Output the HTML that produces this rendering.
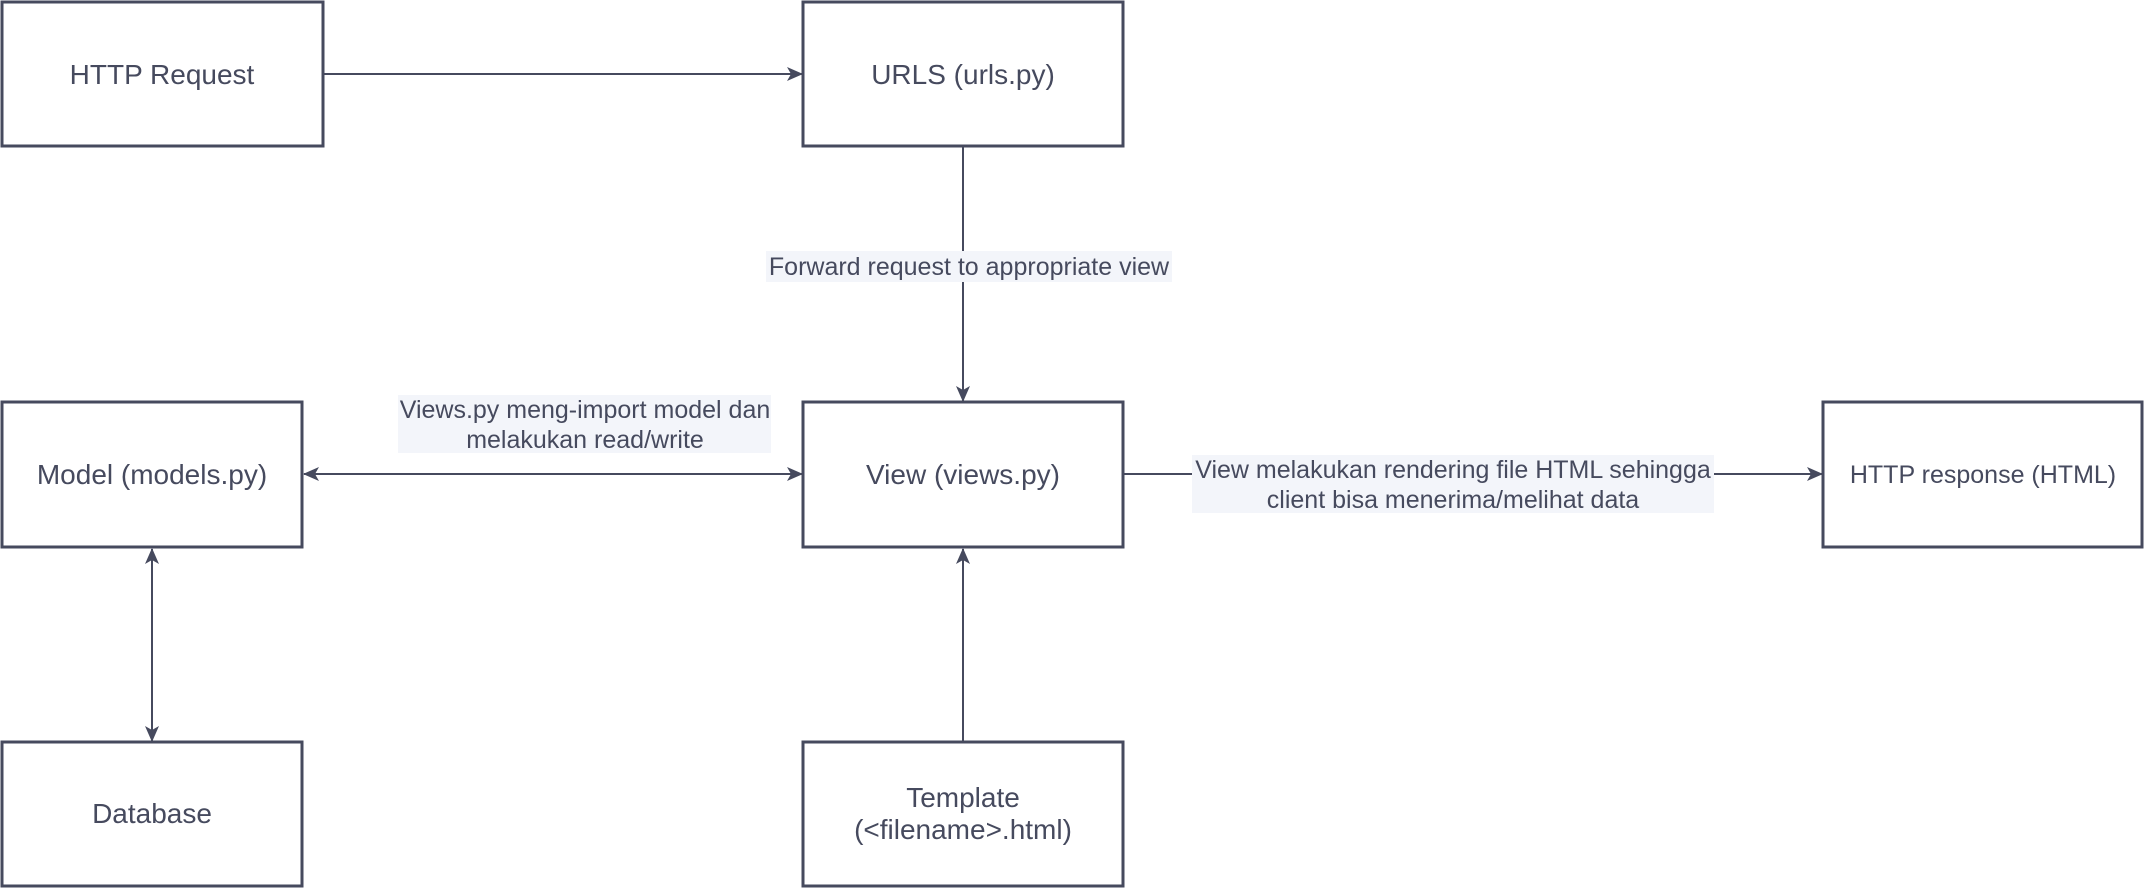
<!DOCTYPE html>
<html><head><meta charset="utf-8"><style>
html,body{margin:0;padding:0;background:#fff;}
svg{display:block;}
text{font-family:"Liberation Sans",sans-serif;fill:#464a5e;}
</style></head><body>
<svg width="2144" height="888" viewBox="0 0 2144 888" xmlns="http://www.w3.org/2000/svg">
<defs>
<marker id="a" markerWidth="16" markerHeight="16" refX="15" refY="8" orient="auto-start-reverse" markerUnits="userSpaceOnUse">
<path d="M0,1 L16,8 L0,15 L4,8 Z" fill="#464a5e"/>
</marker>
</defs>
<g fill="none" stroke="#464a5e" stroke-width="2">
<line x1="324" y1="74" x2="802" y2="74" marker-end="url(#a)"/>
<line x1="963" y1="146" x2="963" y2="401" marker-end="url(#a)"/>
<line x1="963" y1="742" x2="963" y2="549" marker-end="url(#a)"/>
<line x1="304" y1="474" x2="802" y2="474" marker-start="url(#a)" marker-end="url(#a)"/>
<line x1="1124" y1="474" x2="1822" y2="474" marker-end="url(#a)"/>
<line x1="152" y1="549" x2="152" y2="741" marker-start="url(#a)" marker-end="url(#a)"/>
</g>
<g fill="#fff" stroke="#464a5e" stroke-width="3">
<rect x="2" y="2" width="321" height="144"/>
<rect x="803" y="2" width="320" height="144"/>
<rect x="2" y="402" width="300" height="145"/>
<rect x="803" y="402" width="320" height="145"/>
<rect x="1823" y="402" width="319" height="145"/>
<rect x="2" y="742" width="300" height="144"/>
<rect x="803" y="742" width="320" height="144"/>
</g>
<g fill="#f3f5fa">
<rect x="766" y="251" width="406" height="31"/>
<rect x="398" y="395" width="373" height="58"/>
<rect x="1192" y="455" width="522" height="58"/>
</g>
<g font-size="28" text-anchor="middle">
<text x="162" y="84">HTTP Request</text>
<text x="963" y="84">URLS (urls.py)</text>
<text x="152" y="484">Model (models.py)</text>
<text x="963" y="484">View (views.py)</text>
<text x="1983" y="483" font-size="25">HTTP response (HTML)</text>
<text x="152" y="823">Database</text>
<text x="963" y="807">Template</text>
<text x="963" y="839">(&lt;filename&gt;.html)</text>
</g>
<g font-size="25" text-anchor="middle">
<text x="969" y="275">Forward request to appropriate view</text>
<text x="585" y="418">Views.py meng-import model dan</text>
<text x="585" y="448">melakukan read/write</text>
<text x="1453" y="478">View melakukan rendering file HTML sehingga</text>
<text x="1453" y="508">client bisa menerima/melihat data</text>
</g>
</svg>
</body></html>
